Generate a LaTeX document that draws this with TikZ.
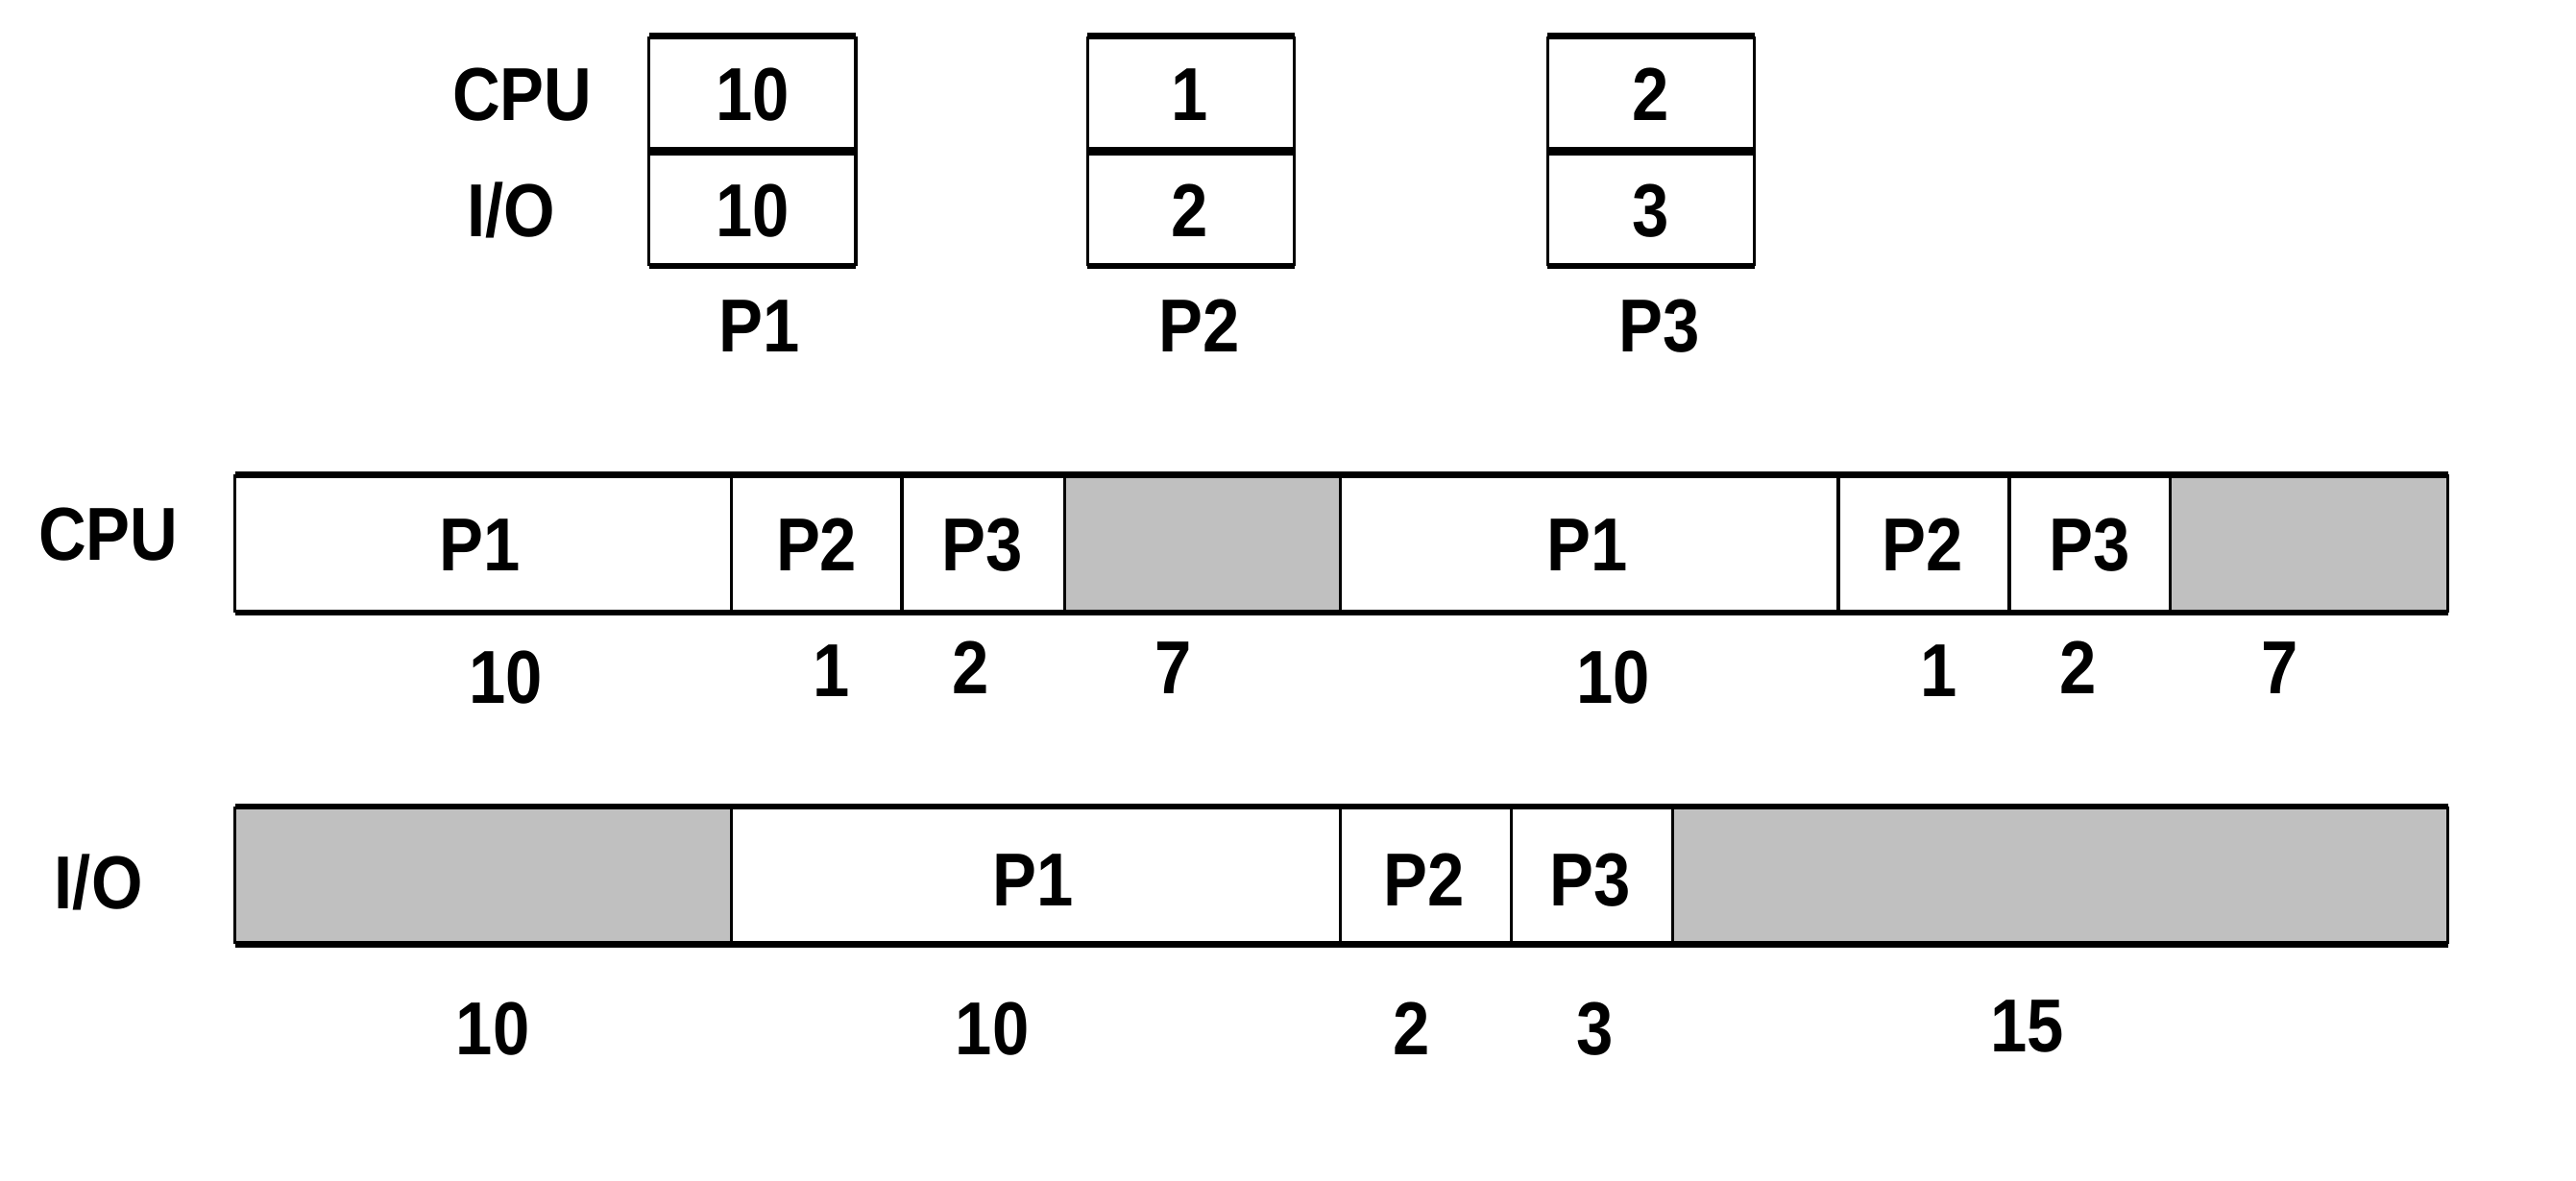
\documentclass[tikz,border=0pt]{standalone}
\usepackage{fontspec}
\setmainfont[FakeStretch=0.88]{Liberation Sans}
\definecolor{idle}{HTML}{C0C0C0}
\begin{document}
\begin{tikzpicture}[x=0.01cm,y=-0.01cm,
  lbl/.style={font=\bfseries\fontsize{13}{15}\selectfont, inner sep=0pt, text height=9.3pt, text depth=0pt, anchor=center},
  thin line/.style={line width=0.55pt},
  thick line/.style={line width=1.1pt},
  mid line/.style={line width=1.6pt}]
\useasboundingbox (0,0) rectangle (1568,719);
\fill[white] (0,0) rectangle (1568,719);

% ---- top process boxes ----
\foreach \xl/\xr in {395/521, 662/788, 942/1068}{
  \draw[thin line] (\xl,22) -- (\xl,162) (\xr,22) -- (\xr,162);
  \draw[thick line] (\xl,22) -- (\xr,22) (\xl,162) -- (\xr,162);
  \draw[mid line] (\xl,92) -- (\xr,92);
}
\node[lbl] (tcpu) at (318,57) {CPU};
\node[lbl] (tio)  at (311,128) {I/O};
\node[lbl] (c1) at (458,57) {10};
\node[lbl] (i1) at (458,128) {10};
\node[lbl] (c2) at (724,57) {1};
\node[lbl] (i2) at (724,128) {2};
\node[lbl] (c3) at (1005,57) {2};
\node[lbl] (i3) at (1005,128) {3};
\node[lbl] (n1) at (462,198) {P1};
\node[lbl] (n2) at (730,198) {P2};
\node[lbl] (n3) at (1010,198) {P3};

% ---- CPU bar ----
\fill[idle] (648,289) rectangle (816,373);
\fill[idle] (1321,289) rectangle (1490,373);
\foreach \x in {445,549,648,816,1119,1223,1321}{
  \draw[thin line] (\x,289) -- (\x,373);
}
\draw[thin line] (143,289) -- (143,373) (1490,289) -- (1490,373);
\draw[thick line] (143,289) -- (1490,289) (143,373) -- (1490,373);
\node[lbl] (cpul) at (66,325) {CPU};
\node[lbl] (b1) at (292,331) {P1};
\node[lbl] (b2) at (497,331) {P2};
\node[lbl] (b3) at (598,331) {P3};
\node[lbl] (b4) at (966,331) {P1};
\node[lbl] (b5) at (1170,331) {P2};
\node[lbl] (b6) at (1272,331) {P3};
\node[lbl] (d1) at (308,412) {10};
\node[lbl] (d2) at (506,408) {1};
\node[lbl] (d3) at (591,406) {2};
\node[lbl] (d4) at (714,406) {7};
\node[lbl] (d5) at (982,412) {10};
\node[lbl] (d6) at (1180,408) {1};
\node[lbl] (d7) at (1265,406) {2};
\node[lbl] (d8) at (1388,406) {7};

% ---- I/O bar ----
\fill[idle] (143,491) rectangle (445,575);
\fill[idle] (1018,491) rectangle (1490,575);
\foreach \x in {445,816,920,1018}{
  \draw[thin line] (\x,491) -- (\x,575);
}
\draw[thin line] (143,491) -- (143,575) (1490,491) -- (1490,575);
\draw[thick line] (143,491) -- (1490,491) (143,575) -- (1490,575);
\node[lbl] (iol) at (60,537) {I/O};
\node[lbl] (e1) at (629,535) {P1};
\node[lbl] (e2) at (867,535) {P2};
\node[lbl] (e3) at (968,535) {P3};
\node[lbl] (f1) at (300,626) {10};
\node[lbl] (f2) at (604,626) {10};
\node[lbl] (f3) at (859,626) {2};
\node[lbl] (f4) at (971,626) {3};
\node[lbl] (f5) at (1234,624) {15};
\end{tikzpicture}
\end{document}
